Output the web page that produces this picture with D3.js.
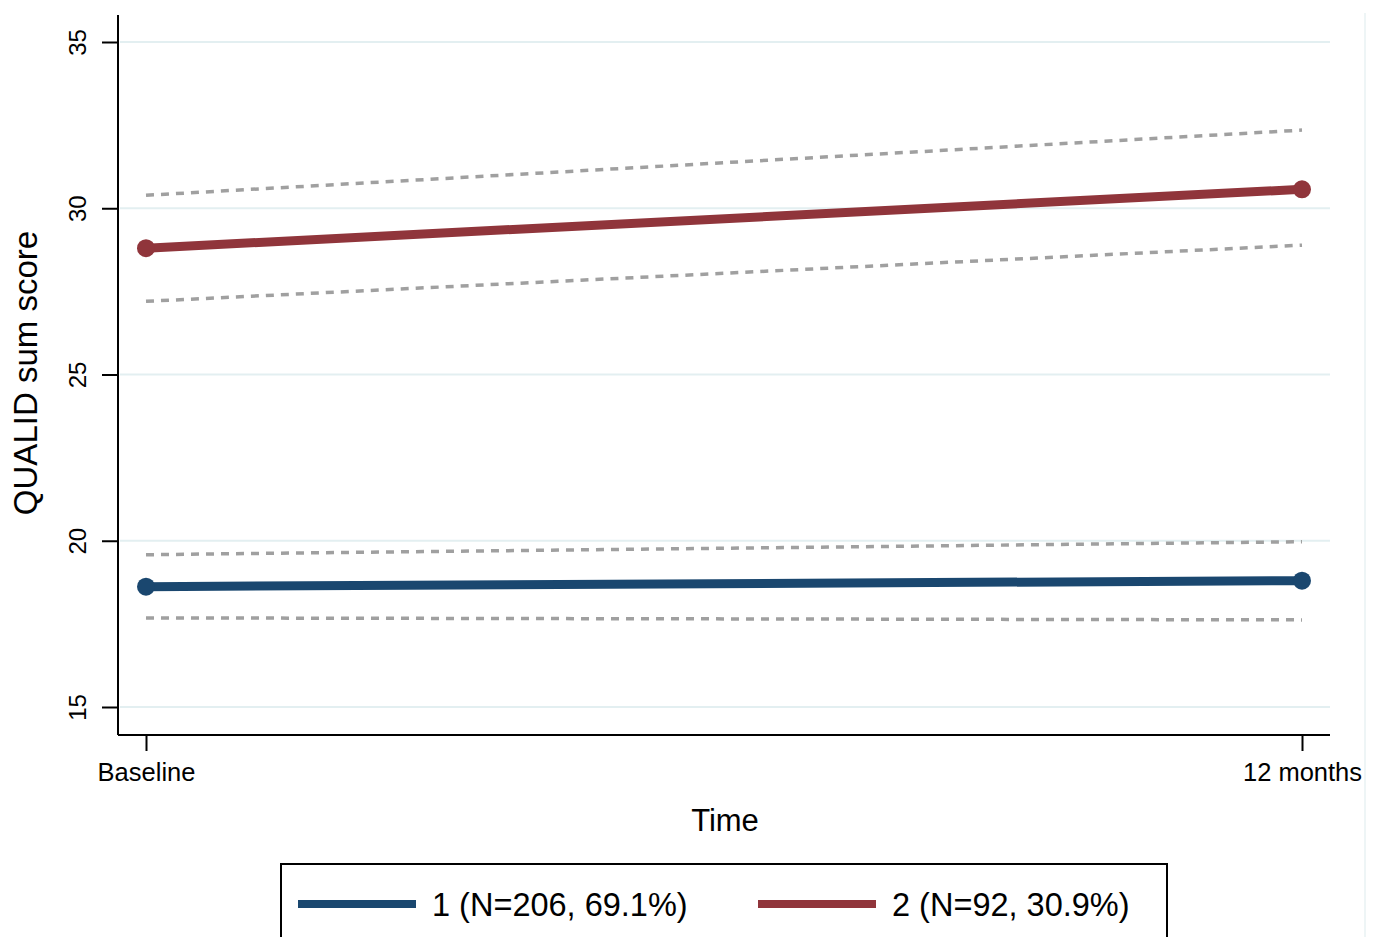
<!DOCTYPE html>
<html>
<head>
<meta charset="utf-8">
<script src="https://cdnjs.cloudflare.com/ajax/libs/d3/7.8.5/d3.min.js"></script>
<style>
  body { margin: 0; background: #fff; }
  svg text { font-family: Arial, "Liberation Sans", sans-serif; }
</style>
</head>
<body>
<svg id="chart" width="1377" height="937"></svg>
<script>
// time points (months)
const timeLabels = ["Baseline", "12 months"];
const timeValues = [0, 12];
const yTicks = [15, 20, 25, 30, 35];

// class trajectories: estimated means and 95% bands
const classNames = ["1 (N=206, 69.1%)", "2 (N=92, 30.9%)"];
const classColors = ["#1a476f", "#90353b"];
const meanClass1 = [18.62, 18.8];
const upperClass1 = [19.58, 19.97];
const lowerClass1 = [17.68, 17.62];
const meanClass2 = [28.8, 30.57];
const upperClass2 = [30.39, 32.35];
const lowerClass2 = [27.2, 28.89];

const svg = d3.select("#chart");

const x = d3.scaleLinear().domain([0, 12]).range([146, 1302]);
const y = d3.scaleLinear().domain([15, 35]).range([707, 42]);
const plotLeft = 118, plotRight = 1330, plotTop = 15, plotBottom = 735;

// faint outer frame line on right
svg.append("line")
  .attr("x1", 1365).attr("x2", 1365).attr("y1", 13).attr("y2", 937)
  .attr("stroke", "#eef5f6").attr("stroke-width", 2);

// grid
svg.append("g").selectAll("line")
  .data(yTicks)
  .join("line")
  .attr("x1", plotLeft + 2).attr("x2", plotRight)
  .attr("y1", d => y(d)).attr("y2", d => y(d))
  .attr("stroke", "#e3eff1").attr("stroke-width", 2);

// axes
const yAxis = svg.append("g").attr("transform", `translate(${plotLeft},0)`)
  .call(d3.axisLeft(y).tickValues(yTicks).tickSize(16).tickFormat(d3.format("d")));
yAxis.select(".domain").attr("d", `M0,${plotTop}V${plotBottom}`).attr("stroke", "#000").attr("stroke-width", 2);
yAxis.selectAll(".tick line").attr("stroke", "#000").attr("stroke-width", 2);
yAxis.selectAll(".tick text")
  .attr("x", 0).attr("y", 0).attr("dy", 0)
  .attr("transform", "translate(-32,0) rotate(-90)")
  .attr("text-anchor", "middle")
  .attr("font-size", 24).attr("fill", "#000");

const xAxis = svg.append("g").attr("transform", `translate(0,${plotBottom})`)
  .call(d3.axisBottom(x).tickValues(timeValues).tickSize(16)
    .tickFormat((d, i) => timeLabels[i]));
xAxis.select(".domain").attr("d", `M${plotLeft},0H${plotRight}`).attr("stroke", "#000").attr("stroke-width", 2);
xAxis.selectAll(".tick line").attr("stroke", "#000").attr("stroke-width", 2);
xAxis.selectAll(".tick text")
  .attr("y", 46).attr("dy", 0)
  .attr("font-size", 25.5).attr("fill", "#000");

// axis titles
svg.append("text")
  .attr("transform", "translate(37,373) rotate(-90)")
  .attr("text-anchor", "middle")
  .attr("font-size", 33).attr("fill", "#000")
  .text("QUALID sum score");
svg.append("text")
  .attr("x", 725).attr("y", 831)
  .attr("text-anchor", "middle")
  .attr("font-size", 31).attr("fill", "#000")
  .text("Time");

const line = d3.line().x((d, i) => x(timeValues[i])).y(d => y(d));

// confidence bands
[upperClass1, lowerClass1, upperClass2, lowerClass2].forEach(s => {
  svg.append("path")
    .attr("d", line(s))
    .attr("fill", "none")
    .attr("stroke", "#a0a0a0")
    .attr("stroke-width", 3.5)
    .attr("stroke-dasharray", "8,7");
});

// means
[meanClass1, meanClass2].forEach((s, k) => {
  svg.append("path")
    .attr("d", line(s))
    .attr("fill", "none")
    .attr("stroke", classColors[k])
    .attr("stroke-width", 9);
  svg.append("g").selectAll("circle")
    .data(s)
    .join("circle")
    .attr("cx", (d, i) => x(timeValues[i]))
    .attr("cy", d => y(d))
    .attr("r", 9)
    .attr("fill", classColors[k]);
});

// legend
svg.append("rect")
  .attr("x", 281).attr("y", 864).attr("width", 886).attr("height", 100)
  .attr("fill", "none").attr("stroke", "#000").attr("stroke-width", 2);
const legendX = [298, 758];
classNames.forEach((name, k) => {
  svg.append("line")
    .attr("x1", legendX[k]).attr("x2", legendX[k] + 118)
    .attr("y1", 904).attr("y2", 904)
    .attr("stroke", classColors[k]).attr("stroke-width", 8);
  svg.append("text")
    .attr("x", legendX[k] + 134).attr("y", 916)
    .attr("font-size", 32.5).attr("fill", "#000")
    .text(name);
});
</script>
</body>
</html>
